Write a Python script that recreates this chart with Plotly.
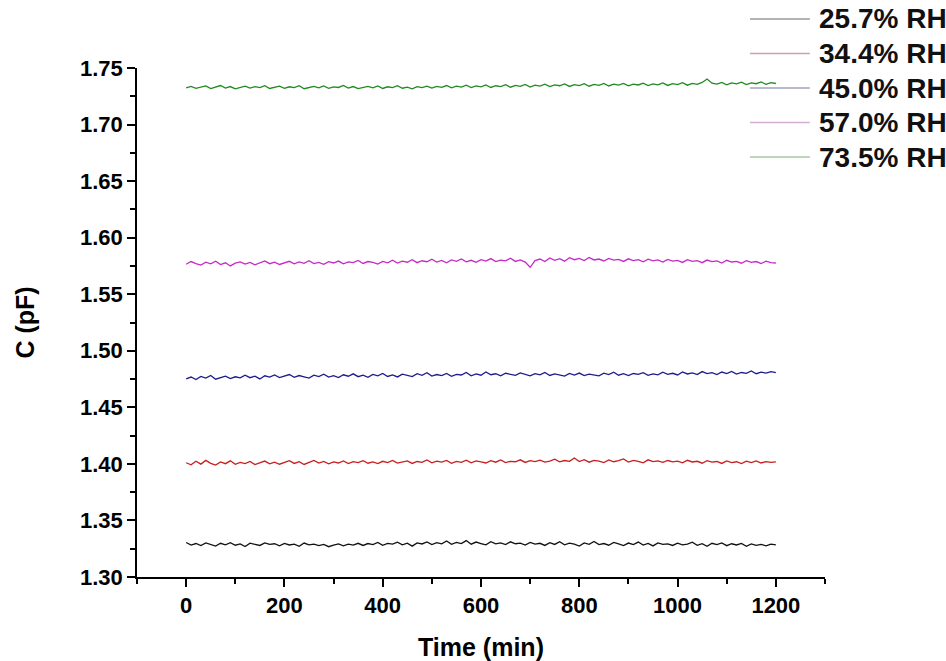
import plotly.graph_objects as go

time_min = list(range(0, 1201, 10))

series_names = ["25.7% RH", "34.4% RH", "45.0% RH", "57.0% RH", "73.5% RH"]
line_colors = ["#111111", "#c81e1e", "#1c1c8e", "#c62ac6", "#1f8a1f"]
legend_colors = ["#9a9a9a", "#c9a3a6", "#a3a3bf", "#d2aed4", "#a6c9a6"]

c_257 = [
    1.3305,1.3282,1.3296,1.3278,1.3301,1.3289,1.3274,1.3298,1.3285,1.3303,
    1.3281,1.3292,1.3270,1.3299,1.3286,1.3279,1.3302,1.3288,1.3294,1.3276,
    1.3297,1.3283,1.3291,1.3272,1.3300,1.3284,1.3290,1.3277,1.3288,1.3268,
    1.3281,1.3293,1.3275,1.3290,1.3282,1.3298,1.3279,1.3296,1.3287,1.3305,
    1.3280,1.3297,1.3291,1.3308,1.3284,1.3299,1.3273,1.3302,1.3292,1.3310,
    1.3286,1.3304,1.3293,1.3318,1.3289,1.3306,1.3295,1.3322,1.3290,1.3309,
    1.3296,1.3284,1.3312,1.3293,1.3301,1.3287,1.3311,1.3294,1.3300,1.3283,
    1.3306,1.3291,1.3298,1.3279,1.3303,1.3288,1.3312,1.3285,1.3299,1.3290,
    1.3274,1.3301,1.3289,1.3314,1.3286,1.3296,1.3281,1.3305,1.3292,1.3278,
    1.3300,1.3287,1.3309,1.3282,1.3297,1.3275,1.3302,1.3288,1.3293,1.3279,
    1.3299,1.3284,1.3291,1.3308,1.3280,1.3295,1.3272,1.3298,1.3286,1.3301,
    1.3277,1.3294,1.3283,1.3297,1.3271,1.3292,1.3280,1.3289,1.3276,1.3291,
    1.3284,
]

c_344 = [
    1.4010,1.3992,1.4024,1.3998,1.4031,1.4005,1.3989,1.4018,1.4002,1.4027,
    1.3996,1.4014,1.4003,1.4021,1.3994,1.4010,1.4025,1.4001,1.4016,1.3997,
    1.4012,1.4028,1.4004,1.4019,1.3995,1.4013,1.4030,1.4007,1.4022,1.4001,
    1.4017,1.4008,1.4026,1.4003,1.4020,1.4011,1.4029,1.4006,1.4018,1.4002,
    1.4023,1.4012,1.4031,1.4007,1.4019,1.4026,1.4004,1.4021,1.4013,1.4034,
    1.4009,1.4024,1.4016,1.4030,1.4005,1.4022,1.4014,1.4032,1.4010,1.4027,
    1.4017,1.4008,1.4029,1.4015,1.4035,1.4011,1.4023,1.4019,1.4036,1.4013,
    1.4028,1.4020,1.4033,1.4016,1.4025,1.4041,1.4018,1.4030,1.4022,1.4052,
    1.4021,1.4037,1.4015,1.4031,1.4024,1.4012,1.4035,1.4019,1.4028,1.4044,
    1.4016,1.4031,1.4022,1.4010,1.4036,1.4020,1.4027,1.4013,1.4030,1.4018,
    1.4025,1.4009,1.4032,1.4017,1.4023,1.4006,1.4028,1.4015,1.4021,1.4004,
    1.4026,1.4012,1.4019,1.4002,1.4024,1.4011,1.4027,1.4008,1.4020,1.4014,
    1.4018,
]

c_450 = [
    1.4752,1.4768,1.4745,1.4773,1.4758,1.4781,1.4749,1.4766,1.4776,1.4755,
    1.4770,1.4760,1.4784,1.4762,1.4775,1.4751,1.4779,1.4767,1.4786,1.4763,
    1.4774,1.4790,1.4765,1.4781,1.4770,1.4759,1.4785,1.4772,1.4793,1.4768,
    1.4780,1.4763,1.4788,1.4775,1.4796,1.4771,1.4784,1.4766,1.4791,1.4778,
    1.4800,1.4773,1.4787,1.4769,1.4794,1.4781,1.4772,1.4797,1.4783,1.4806,
    1.4776,1.4790,1.4781,1.4799,1.4774,1.4792,1.4786,1.4808,1.4779,1.4795,
    1.4784,1.4812,1.4788,1.4797,1.4778,1.4801,1.4790,1.4783,1.4805,1.4791,
    1.4779,1.4798,1.4787,1.4809,1.4782,1.4796,1.4789,1.4776,1.4800,1.4785,
    1.4803,1.4781,1.4794,1.4788,1.4779,1.4802,1.4790,1.4811,1.4784,1.4797,
    1.4780,1.4799,1.4791,1.4806,1.4783,1.4795,1.4787,1.4810,1.4792,1.4801,
    1.4786,1.4813,1.4795,1.4804,1.4789,1.4816,1.4798,1.4807,1.4790,1.4812,
    1.4799,1.4818,1.4794,1.4808,1.4801,1.4821,1.4797,1.4811,1.4803,1.4815,
    1.4806,
]

c_570 = [
    1.5765,1.5789,1.5771,1.5758,1.5783,1.5769,1.5792,1.5762,1.5778,1.5750,
    1.5774,1.5786,1.5766,1.5781,1.5760,1.5777,1.5795,1.5770,1.5784,1.5763,
    1.5779,1.5791,1.5768,1.5785,1.5773,1.5797,1.5771,1.5782,1.5764,1.5788,
    1.5776,1.5793,1.5769,1.5786,1.5779,1.5798,1.5772,1.5789,1.5781,1.5766,
    1.5790,1.5778,1.5801,1.5775,1.5792,1.5783,1.5805,1.5779,1.5796,1.5787,
    1.5810,1.5784,1.5799,1.5778,1.5803,1.5791,1.5812,1.5786,1.5800,1.5782,
    1.5806,1.5793,1.5815,1.5788,1.5802,1.5795,1.5818,1.5790,1.5804,1.5784,
    1.5738,1.5797,1.5811,1.5789,1.5820,1.5800,1.5814,1.5792,1.5823,1.5805,
    1.5816,1.5798,1.5825,1.5803,1.5811,1.5794,1.5817,1.5801,1.5808,1.5790,
    1.5813,1.5798,1.5806,1.5787,1.5810,1.5795,1.5803,1.5784,1.5807,1.5792,
    1.5799,1.5781,1.5805,1.5790,1.5797,1.5779,1.5802,1.5788,1.5794,1.5776,
    1.5800,1.5785,1.5791,1.5774,1.5796,1.5782,1.5789,1.5771,1.5793,1.5780,
    1.5776,
]

c_735 = [
    1.7325,1.7338,1.7320,1.7333,1.7342,1.7318,1.7330,1.7345,1.7323,1.7336,
    1.7315,1.7331,1.7340,1.7322,1.7335,1.7327,1.7344,1.7319,1.7332,1.7339,
    1.7321,1.7334,1.7326,1.7343,1.7317,1.7330,1.7337,1.7324,1.7341,1.7320,
    1.7333,1.7328,1.7346,1.7322,1.7336,1.7318,1.7331,1.7338,1.7325,1.7342,
    1.7319,1.7334,1.7327,1.7344,1.7321,1.7330,1.7316,1.7335,1.7326,1.7340,
    1.7323,1.7337,1.7329,1.7345,1.7324,1.7339,1.7331,1.7348,1.7327,1.7341,
    1.7333,1.7350,1.7328,1.7343,1.7336,1.7352,1.7330,1.7346,1.7338,1.7355,
    1.7332,1.7349,1.7340,1.7357,1.7335,1.7351,1.7343,1.7359,1.7337,1.7353,
    1.7345,1.7361,1.7339,1.7355,1.7347,1.7363,1.7341,1.7357,1.7348,1.7364,
    1.7342,1.7358,1.7350,1.7366,1.7344,1.7360,1.7351,1.7368,1.7346,1.7362,
    1.7353,1.7370,1.7348,1.7364,1.7355,1.7372,1.7402,1.7366,1.7357,1.7373,
    1.7351,1.7368,1.7359,1.7375,1.7353,1.7369,1.7361,1.7377,1.7355,1.7371,
    1.7363,
]

series_values = [c_257, c_344, c_450, c_570, c_735]

x_ticks = [0, 200, 400, 600, 800, 1000, 1200]
y_ticks = [1.30, 1.35, 1.40, 1.45, 1.50, 1.55, 1.60, 1.65, 1.70, 1.75]

FONT = "Liberation Sans, Arial, sans-serif"

fig = go.Figure()
for name, vals, col in zip(series_names, series_values, line_colors):
    fig.add_trace(go.Scatter(x=time_min, y=vals, mode="lines", name=name,
                             line=dict(color=col, width=1.3), showlegend=False))

# manual legend (paper coordinates)
leg_top = 1.0963      # centre of first row, paper units
leg_step = 0.0678     # row spacing, paper units
for i, (name, col) in enumerate(zip(series_names, legend_colors)):
    yy = leg_top - i * leg_step
    fig.add_shape(type="line", xref="paper", yref="paper",
                  x0=0.891, x1=0.978, y0=yy, y1=yy,
                  line=dict(color=col, width=1.5))
    fig.add_annotation(xref="paper", yref="paper", x=0.988, y=yy,
                       xanchor="left", yanchor="middle", text=name, showarrow=False,
                       font=dict(family=FONT, size=28, color="#111111", weight="bold"))

axis_common = dict(
    showline=True, linecolor="black", linewidth=1.5, mirror=False,
    showgrid=False, zeroline=False, ticks="outside", ticklen=8, tickwidth=1.5,
    tickcolor="black",
    tickfont=dict(family=FONT, size=22, color="black", weight="bold"),
)

fig.update_xaxes(
    range=[-100, 1300], tickvals=x_ticks,
    minor=dict(ticks="outside", ticklen=5, tickwidth=1.5, tickcolor="black", dtick=100, tick0=0, showgrid=False),
    title=dict(text="Time (min)", font=dict(family=FONT, size=25, color="black", weight="bold"), standoff=24),
    **axis_common,
)
fig.update_yaxes(
    range=[1.30, 1.75], tickvals=y_ticks, tickformat=".2f",
    minor=dict(ticks="outside", ticklen=5, tickwidth=1.5, tickcolor="black", dtick=0.025, tick0=1.30, showgrid=False),
    title=dict(text="C (pF)", font=dict(family=FONT, size=25, color="black", weight="bold"), standoff=38),
    **axis_common,
)

fig.update_layout(
    width=946, height=661,
    margin=dict(l=137, r=121, t=68, b=84, autoexpand=False),
    paper_bgcolor="white", plot_bgcolor="white",
    showlegend=False,
)

fig.write_html("out.html")
